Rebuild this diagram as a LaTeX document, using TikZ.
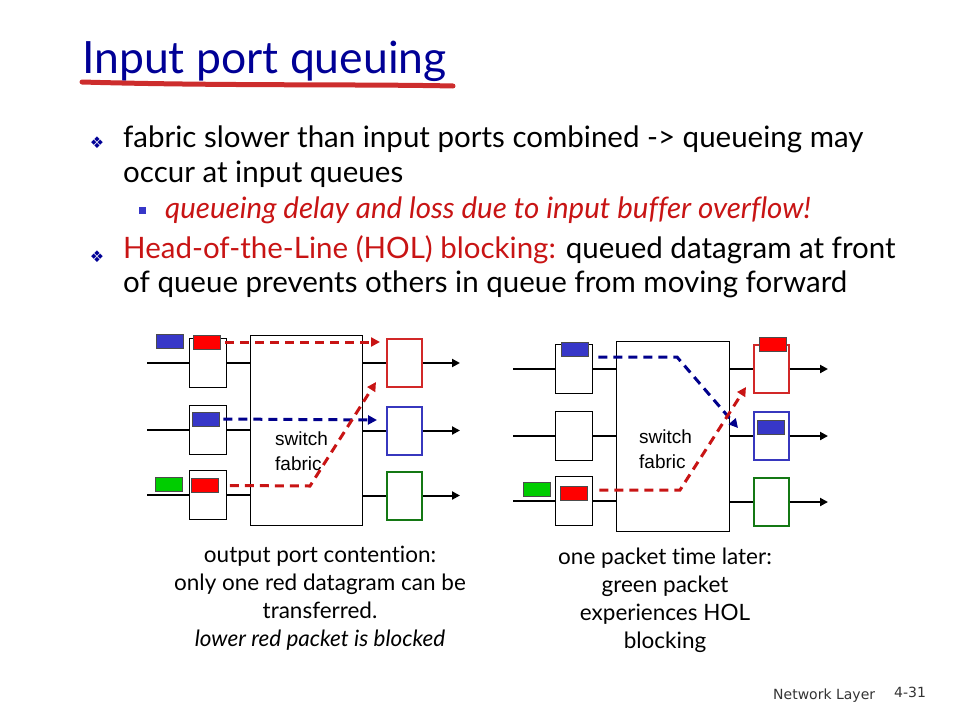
\documentclass[tikz,border=0pt]{standalone}
\usepackage{fontspec}
\setmainfont{Lato}[Ligatures={NoCommon,TeX}]
\newfontfamily\arialfont{Liberation Sans}
\newfontfamily\symfont{DejaVu Sans}
\usetikzlibrary{arrows.meta}

\definecolor{titleblue}{RGB}{0,0,150}
\definecolor{hotred}{RGB}{200,20,20}
\definecolor{pktblue}{RGB}{55,55,200}
\definecolor{pktred}{RGB}{255,0,0}
\definecolor{pktgreen}{RGB}{0,205,0}
\definecolor{outred}{RGB}{210,40,40}
\definecolor{outblue}{RGB}{55,55,190}
\definecolor{outgreen}{RGB}{20,120,20}
\definecolor{dashblue}{RGB}{0,0,140}
\definecolor{swoosh}{RGB}{205,45,45}

\tikzset{
    port/.style={draw=black, line width=1pt, fill=white, minimum width=37pt, minimum height=49pt, inner sep=0pt},
    outport/.style={draw=#1, line width=2pt, fill=white, minimum width=35pt, minimum height=48pt, inner sep=0pt},
    fabric/.style={draw=black, line width=1pt, fill=white, minimum width=112pt, minimum height=190pt, inner sep=0pt},
    packet/.style={draw=black!70, line width=0.8pt, fill=#1, minimum width=27pt, minimum height=14pt, inner sep=0pt},
    wire/.style={line width=2pt},
    outwire/.style={line width=2pt, -{Triangle[length=8pt,width=8pt]}},
    flow/.style={line width=3pt, dash pattern=on 9pt off 6pt, #1, -{Triangle[length=9pt,width=9pt]}},
    body/.style={anchor=base west, inner sep=0pt, font=\fontsize{29.5}{34}\selectfont},
    bulletmark/.style={text=titleblue, inner sep=0pt, font=\symfont\fontsize{16}{16}\selectfont},
    fabriclabel/.style={anchor=west, align=left, inner sep=0pt, font=\arialfont\fontsize{19}{25}\selectfont},
    caption/.style={anchor=north, align=center, inner sep=0pt, font=\fontsize{22.5}{28}\selectfont},
}

\begin{document}
\begin{tikzpicture}[x=1pt, y=-1pt]
    \useasboundingbox (0,0) rectangle (960,720);

    % Title with the red brush stroke under it
    \node[anchor=base west, inner sep=0pt, text=titleblue, font=\fontsize{44.5}{50}\selectfont] (title) at (82,73) {Input port queuing};
    \draw[swoosh, line width=5pt, line cap=round] (82,82) .. controls (220,86) and (360,84) .. (453,86);

    % Bullet text
    \node[bulletmark] (bulletA) at (97,143) {❖};
    \node[body] (lineA1) at (123,147) {fabric slower than input ports combined -> queueing may};
    \node[body] (lineA2) at (123,182) {occur at input queues};
    \node[fill=pktblue, minimum size=7pt, inner sep=0pt] (bulletAA) at (142,210) {};
    \node[body, text=hotred] (lineA3) at (165,218) {\itshape queueing delay and loss due to input buffer overflow!};
    \node[bulletmark] (bulletB) at (97,257) {❖};
    \node[body] (lineB1) at (123,258) {\textcolor{hotred}{Head-of-the-Line (HOL) blocking:} queued datagram at front};
    \node[body] (lineB2) at (123,292) {of queue prevents others in queue from moving forward};

    % Left switch: output port contention
    \node[fabric] (fabA) at (306.5,430) {};
    \node[fabriclabel] (fabAtext) at (275,451) {switch\\fabric};
    \foreach \i/\yin/\yout/\col in {1/363/363/outred, 2/429.5/430.5/outblue, 3/495/495.5/outgreen} {
        \node[port] (inA\i) at (208,\yin) {};
        \node[outport=\col] (outA\i) at (404.5,\yout) {};
        \coordinate (srcA\i) at (147,\yin);
        \coordinate (dstA\i) at (460,\yout);
        \draw[wire] (srcA\i) -- (inA\i);
        \draw[wire] (inA\i) -- (inA\i -| fabA.west);
        \draw[wire] (fabA.east |- outA\i) -- (outA\i);
        \draw[outwire] (outA\i) -- (dstA\i);
    }
    \node[packet=pktblue] (pA0) at (169.5,341.5) {};
    \node[packet=pktred] (pA1) at (207,342) {};
    \node[packet=pktblue] (pA2) at (205.5,419) {};
    \node[packet=pktgreen] (pA4) at (169,484) {};
    \node[packet=pktred] (pA3) at (205,485.5) {};

    \coordinate (tipA1) at (380,342);
    \coordinate (tipA2) at (377,420);
    \coordinate (bendA3) at (310,486);
    \coordinate (tipA3) at (376,382);
    \draw[flow=hotred] ([xshift=4.5pt]pA1.east) -- (tipA1);
    \draw[flow=dashblue] ([xshift=4pt]pA2.east) -- (tipA2);
    \draw[flow=hotred] ([xshift=11pt]pA3.east) -- (bendA3) -- (tipA3);

    % Right switch: one packet time later
    \node[fabric, minimum width=113pt] (fabB) at (672.5,436) {};
    \node[fabriclabel] (fabBtext) at (639,449) {switch\\fabric};
    \foreach \i/\yin/\yout/\col in {1/368.5/369/outred, 2/435.5/436/outblue, 3/501/502/outgreen} {
        \node[port] (inB\i) at (573.5,\yin) {};
        \node[outport=\col] (outB\i) at (771,\yout) {};
        \coordinate (srcB\i) at (513,\yin);
        \coordinate (dstB\i) at (828,\yout);
        \draw[wire] (srcB\i) -- (inB\i);
        \draw[wire] (inB\i) -- (inB\i -| fabB.west);
        \draw[wire] (fabB.east |- outB\i) -- (outB\i);
        \draw[outwire] (outB\i) -- (dstB\i);
    }
    \node[packet=pktblue] (pB1) at (574.5,349) {};
    \node[packet=pktgreen] (pB4) at (537,489) {};
    \node[packet=pktred] (pB3) at (573.5,493) {};
    \node[packet=pktred] (pB5) at (772.5,344.5) {};
    \node[packet=pktblue] (pB6) at (770.5,427.5) {};

    \coordinate (bendB1) at (677,357);
    \coordinate (tipB1) at (738,428);
    \coordinate (bendB3) at (680,490);
    \coordinate (tipB3) at (746,387);
    \draw[flow=dashblue] ([xshift=10pt,yshift=-8pt]pB1.east) -- (bendB1) -- (tipB1);
    \draw[flow=hotred] ([xshift=12pt,yshift=3pt]pB3.east) -- (bendB3) -- (tipB3);

    % Captions
    \node[caption] (capA) at (320,546) {output port contention:\\only one red datagram can be\\transferred.\\\textit{lower red packet is blocked}};
    \node[caption] (capB) at (665,548) {one packet time later:\\green packet\\experiences HOL\\blocking};

    % Footer
    \node[anchor=base west, inner sep=0pt, text=black!80, font=\symfont\fontsize{14}{14}\selectfont] (footer) at (773,699) {Network Layer};
    \node[anchor=base west, inner sep=0pt, text=black!80, font=\symfont\fontsize{14}{14}\selectfont] (pageno) at (894,697) {4-31};
\end{tikzpicture}
\end{document}
